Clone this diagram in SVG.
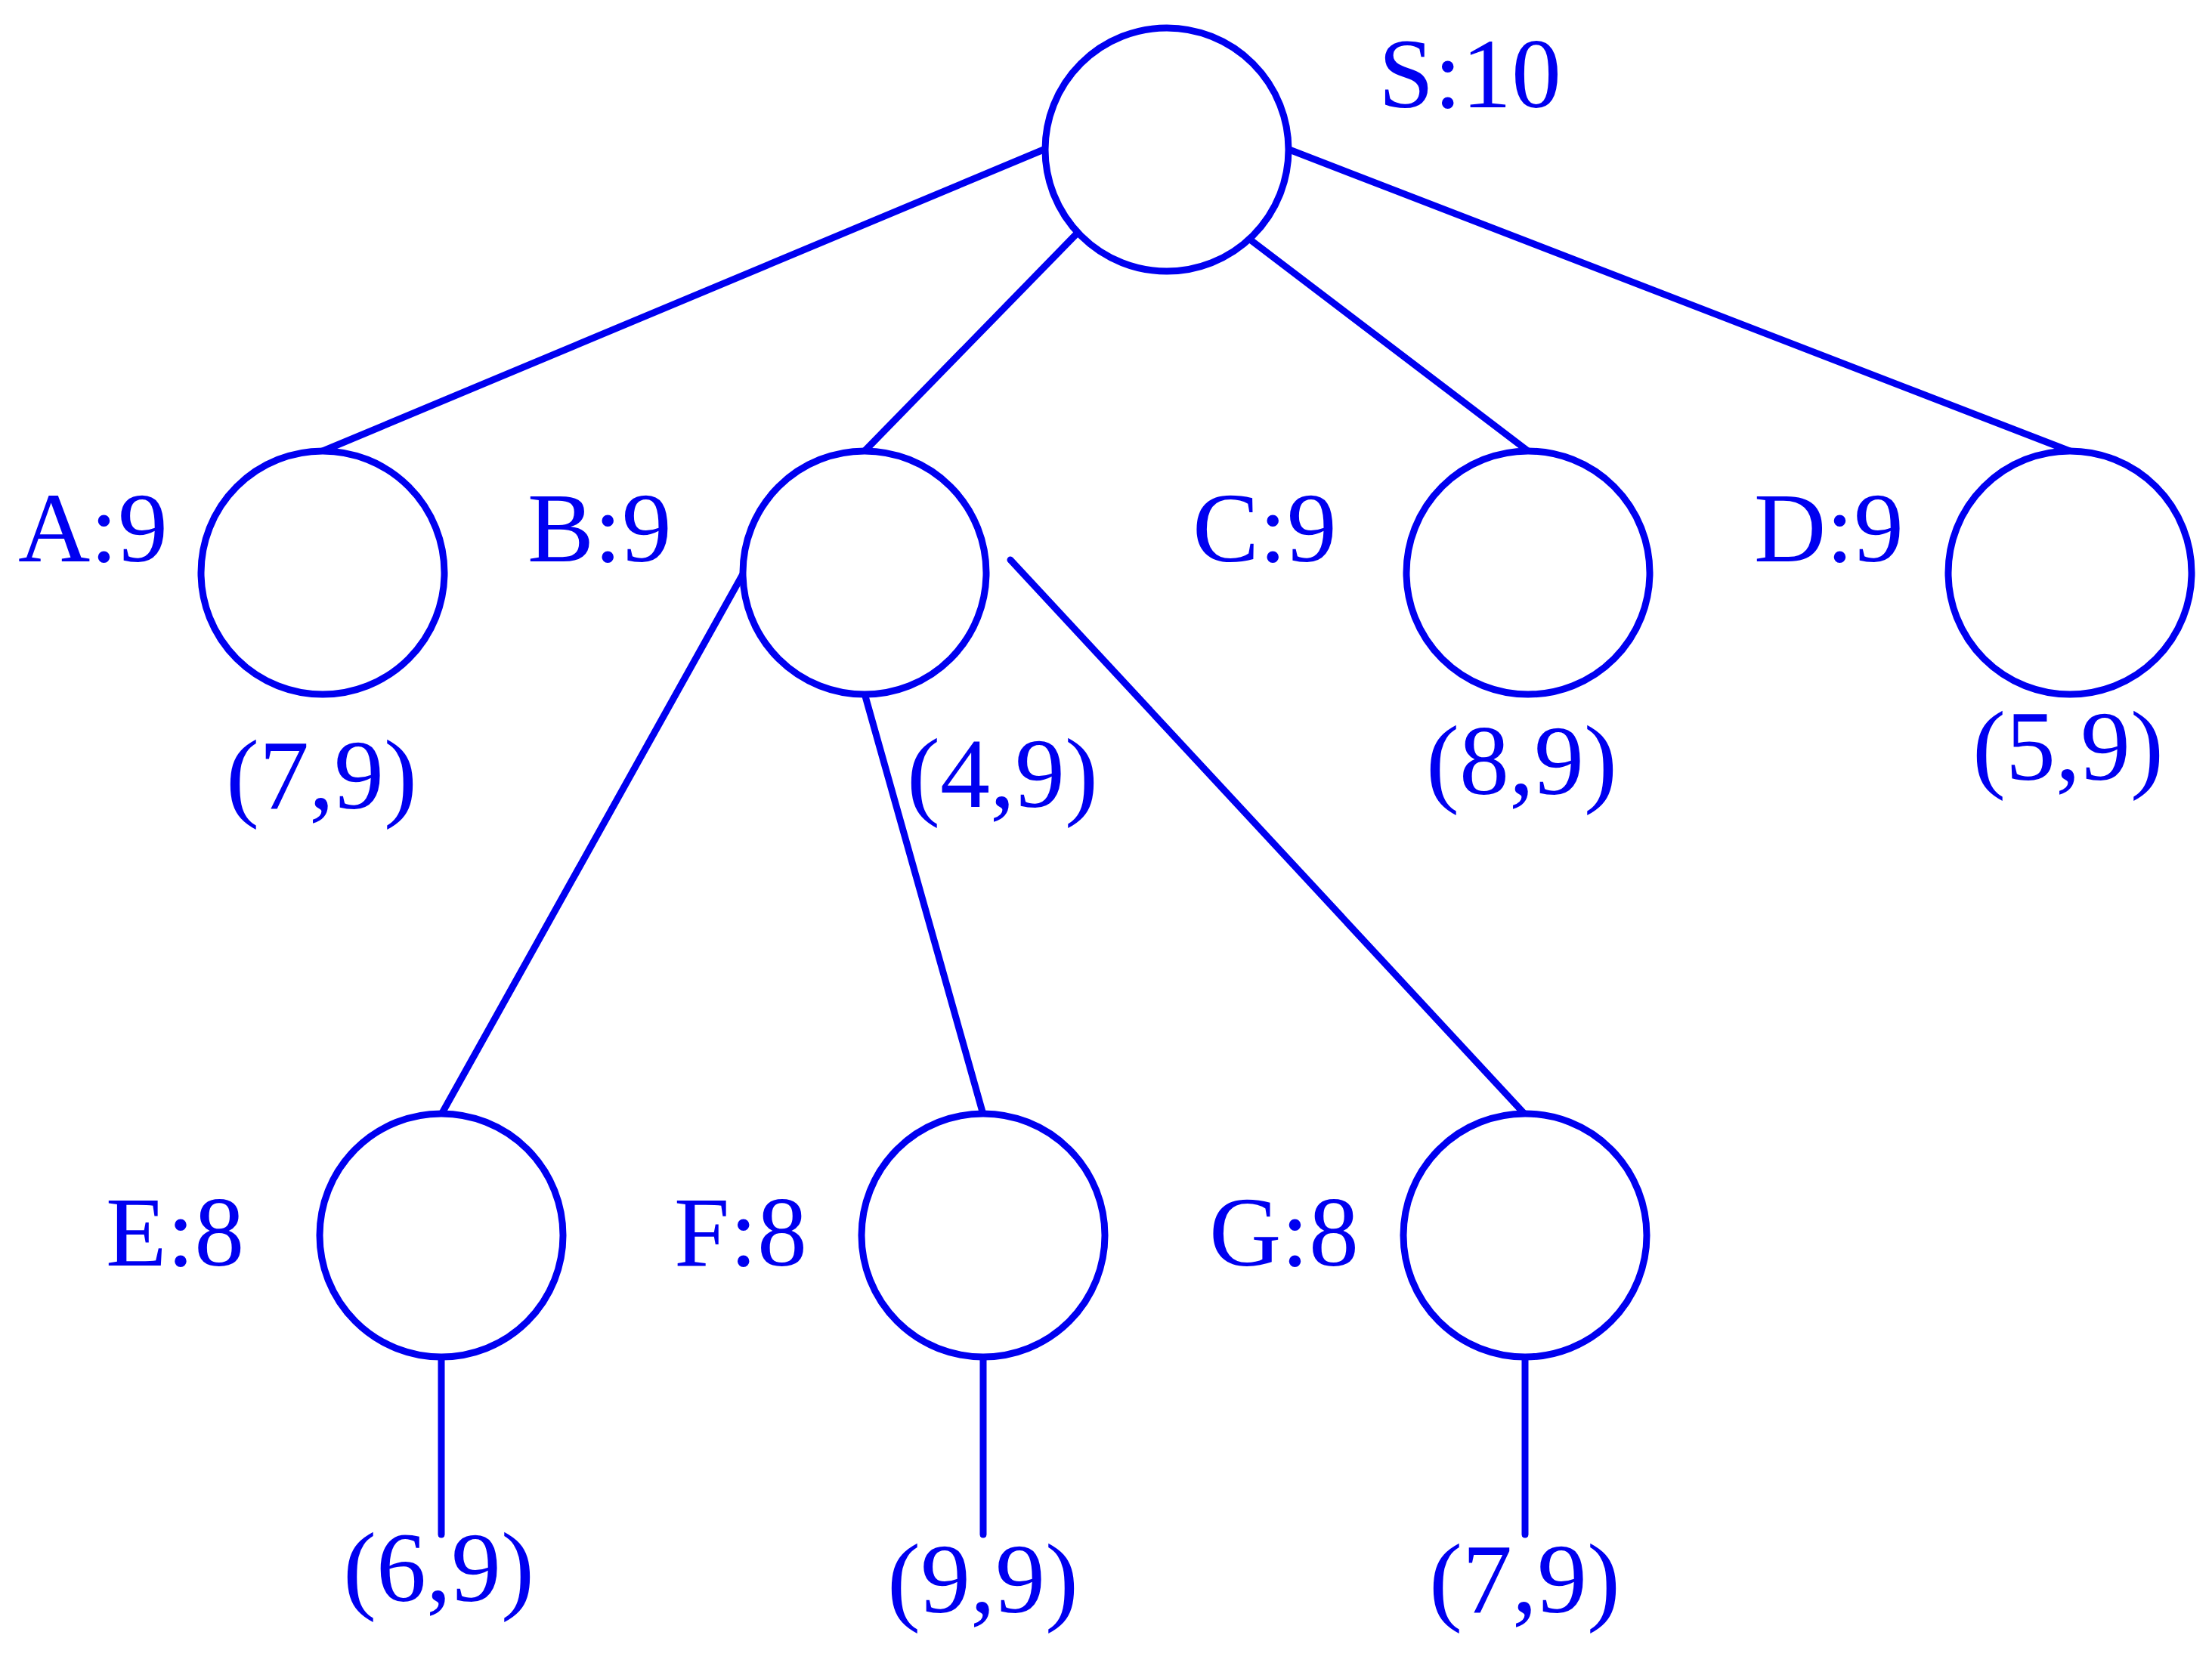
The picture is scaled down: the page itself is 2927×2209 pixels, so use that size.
<svg xmlns="http://www.w3.org/2000/svg" width="2927" height="2209" viewBox="0 0 2927 2209">
<style>
.n{fill:#fff;stroke:#0000f0;stroke-width:9}
.e{stroke:#0000f0;stroke-width:9;stroke-linecap:round;fill:none}
text{font-family:"Liberation Serif",serif;font-size:132px;fill:#0000f0}
</style>
<rect width="2927" height="2209" fill="#fff"/>
<g id="connectors">
<line class="e" x1="1381" y1="198" x2="427" y2="597"/>
<line class="e" x1="1424" y1="310" x2="1144" y2="597"/>
<line class="e" x1="1654" y1="317" x2="2022" y2="597"/>
<line class="e" x1="1706" y1="198" x2="2739" y2="597"/>
<line class="e" x1="984" y1="758" x2="584" y2="1475"/>
<line class="e" x1="1144" y1="918" x2="1301" y2="1475"/>
<line class="e" x1="1337" y1="741" x2="2018" y2="1475"/>
<line class="e" x1="584" y1="1796" x2="584" y2="2031"/>
<line class="e" x1="1301" y1="1796" x2="1301" y2="2031"/>
<line class="e" x1="2018" y1="1796" x2="2018" y2="2031"/>
</g>
<g id="S"><circle class="n" cx="1544" cy="198" r="161"/><text x="1824" y="142">S:10</text></g>
<g id="A"><circle class="n" cx="427" cy="758" r="161"/><text x="24" y="743">A:9</text><text x="299" y="1070">(7,9)</text></g>
<g id="B"><circle class="n" cx="1144" cy="758" r="161"/><text x="698" y="743">B:9</text><text x="1200" y="1068">(4,9)</text></g>
<g id="C"><circle class="n" cx="2022" cy="758" r="161"/><text x="1578" y="743">C:9</text><text x="1887" y="1051">(8,9)</text></g>
<g id="D"><circle class="n" cx="2739" cy="758" r="161"/><text x="2321" y="743">D:9</text><text x="2610" y="1032">(5,9)</text></g>
<g id="E"><circle class="n" cx="584" cy="1635" r="161"/><text x="140" y="1675">E:8</text><text x="454" y="2119">(6,9)</text></g>
<g id="F"><circle class="n" cx="1301" cy="1635" r="161"/><text x="892" y="1675">F:8</text><text x="1174" y="2134">(9,9)</text></g>
<g id="G"><circle class="n" cx="2018" cy="1635" r="161"/><text x="1600" y="1675">G:8</text><text x="1891" y="2134">(7,9)</text></g>
</svg>
